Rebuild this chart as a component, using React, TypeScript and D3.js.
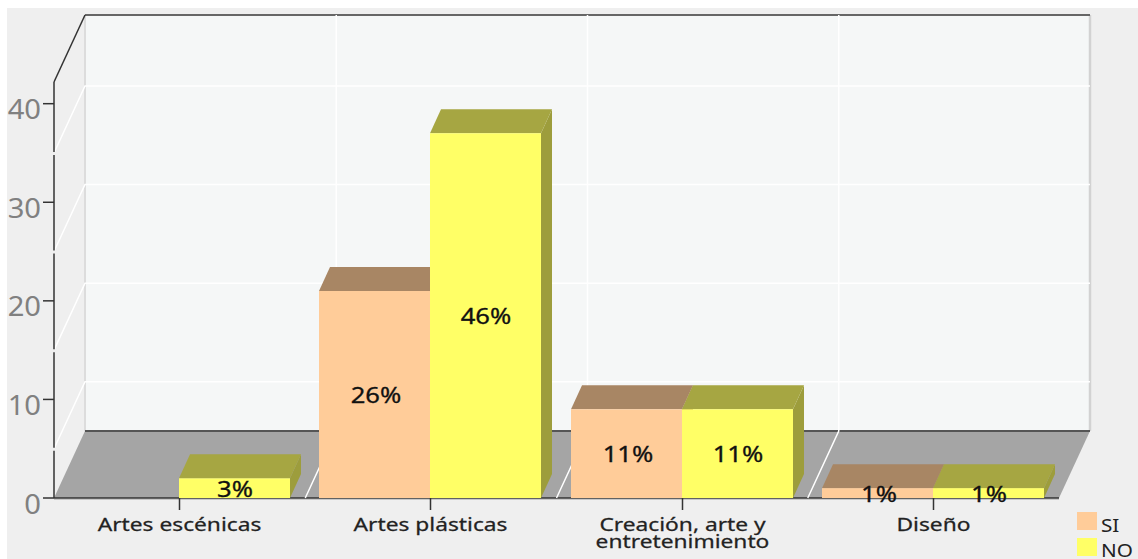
import * as d3 from "d3";

const categories = ["Artes escénicas", "Artes plásticas", "Creación, arte y|entretenimiento", "Diseño"];
const seriesSI = [0, 21, 9, 1];
const seriesNO = [2, 37, 9, 1];
const labelsSI = ["", "26%", "11%", "1%"];
const labelsNO = ["3%", "46%", "11%", "1%"];
const yTicks = [0, 10, 20, 30, 40];
const gridValues = [5, 15, 25, 35];

const FONT = "'Noto Sans', sans-serif";
const DEPTH_X = 31;
const DEPTH_Y = 67;
const BAR_DX = 11;
const BAR_DY = 24;

const y = d3.scaleLinear().domain([0, 42.2]).range([498, 82]);
const x = d3.scaleBand<string>().domain(categories).range([54, 1059]);
const BASE = y(0);
const TOP = y(42.2);

const poly = (pts: [number, number][]) => pts.map((p) => p.join(",")).join(" ");

// Text widened horizontally about its anchor point.
function Wide({ x: tx, y: ty, sx, children, ...rest }: any) {
  return (
    <text transform={`translate(${tx},${ty}) scale(${sx},1)`} {...rest}>
      {children}
    </text>
  );
}

function Bar({ left, width, value, fill, top, side }: {
  left: number; width: number; value: number; fill: string; top: string; side: string;
}) {
  if (value <= 0) return null;
  const t = y(value);
  const r = left + width;
  return (
    <g>
      <polygon points={poly([[r, t], [r + BAR_DX, t - BAR_DY], [r + BAR_DX, BASE - BAR_DY], [r, BASE]])} fill={side} />
      <polygon points={poly([[left, t], [left + BAR_DX, t - BAR_DY], [r + BAR_DX, t - BAR_DY], [r, t]])} fill={top} />
      <rect x={left} y={t} width={width} height={BASE - t} fill={fill} />
    </g>
  );
}

export default function App() {
  const bw = x.bandwidth();
  const half = 111;
  // Whole-pixel seam between the two bars of a category.
  const seam = (c: string) => Math.round(x(c)! + bw / 2 - 0.5);
  return (
    <svg width={1138} height={559} style={{ position: "absolute", left: 0, top: 0, background: "#fff" }} fontFamily={FONT}>
      <rect x={7} y={8} width={1131} height={551} fill="#efefef" />
      {/* back wall */}
      <rect x={54 + DEPTH_X} y={TOP - DEPTH_Y} width={1005} height={BASE - TOP} fill="#f5f7f7" />
      <line x1={85} x2={85} y1={15} y2={431} stroke="#dcdcdc" strokeWidth={2} />
      <line x1={1090} x2={1090} y1={15} y2={431} stroke="#d2d2d2" strokeWidth={2.5} />
      {/* floor */}
      <polygon points={poly([[54, BASE], [54 + DEPTH_X, BASE - DEPTH_Y], [1059 + DEPTH_X, BASE - DEPTH_Y], [1059, BASE]])} fill="#a5a5a5" />
      <line x1={85} x2={1090} y1={431} y2={431} stroke="#555" strokeWidth={2} />
      <line x1={85} x2={1090} y1={15} y2={15} stroke="#666" strokeWidth={2} />
      <line x1={54} x2={1059} y1={498} y2={498} stroke="#333" strokeWidth={1.5} />
      <line x1={54} x2={1059} y1={499.5} y2={499.5} stroke="#c8c8c8" strokeWidth={1} />
      {/* gridlines along the wall and side */}
      {gridValues.map((v) => (
        <polyline key={v} points={poly([[54, y(v)], [85, y(v) - DEPTH_Y], [1090, y(v) - DEPTH_Y]])} stroke="#fff" strokeWidth={1.5} fill="none" />
      ))}
      {/* category separators */}
      {categories.slice(1).map((c) => {
        const fx = x(c)!;
        return (
          <polyline key={c} points={poly([[fx, BASE], [fx + DEPTH_X, BASE - DEPTH_Y], [fx + DEPTH_X, 15]])} stroke="#fff" strokeWidth={1.5} fill="none" />
        );
      })}
      {/* axes */}
      <line x1={54} x2={54} y1={82} y2={498} stroke="#333" strokeWidth={1.5} />
      <line x1={54} x2={85} y1={82} y2={15} stroke="#333" strokeWidth={1.5} />
      {gridValues.map((v) => (
        <line key={v} x1={54} x2={54} y1={y(v) - 1} y2={y(v) + 2} stroke="#efefef" strokeWidth={2} />
      ))}
      {yTicks.map((t) => (
        <g key={t}>
          <line x1={43} x2={54} y1={y(t)} y2={y(t)} stroke="#333" strokeWidth={1.5} />
          <Wide x={41} y={y(t) + 15.5} sx={1.08} textAnchor="end" fontSize={27} fill="#808080">{t}</Wide>
        </g>
      ))}
      {categories.map((c) => {
        const cx = seam(c) + 0.5;
        return <line key={c} x1={cx} x2={cx} y1={498} y2={510} stroke="#333" strokeWidth={1.5} />;
      })}
      {/* bars: the SI series first so NO sits in front of its side face */}
      {categories.map((c, i) => (
        <Bar key={c} left={seam(c) - half} width={half} value={seriesSI[i]} fill="#ffcc99" top="#a88664" side="#a88664" />
      ))}
      {categories.map((c, i) => (
        <Bar key={c} left={seam(c)} width={half} value={seriesNO[i]} fill="#ffff66" top="#a6a642" side="#9d9d3c" />
      ))}
      {/* value labels */}
      {categories.map((c, i) => {
        const cx = seam(c) + 0.5;
        const mid = (v: number) => (y(v) + BASE) / 2 + 8.5;
        const style = { fontSize: 21, fill: "#111", stroke: "#111", strokeWidth: 0.3, textAnchor: "middle" };
        return (
          <g key={c}>
            {labelsSI[i] && <Wide x={cx - half / 2 + 1} y={mid(seriesSI[i])} sx={1.22} {...style}>{labelsSI[i]}</Wide>}
            {labelsNO[i] && <Wide x={cx + half / 2} y={mid(seriesNO[i])} sx={1.22} {...style}>{labelsNO[i]}</Wide>}
          </g>
        );
      })}
      {/* category labels */}
      {categories.map((c) => {
        const cx = seam(c) + 0.5;
        return c.split("|").map((part, k) => (
          <Wide key={part} x={cx} y={530.5 + k * 17} sx={1.23} fontSize={18.5} fill="#222" stroke="#222" strokeWidth={0.25} textAnchor="middle">{part}</Wide>
        ));
      })}
      {/* legend */}
      <rect x={1077} y={512} width={20} height={18} fill="#ffcc99" />
      <rect x={1077} y={538} width={20} height={18} fill="#ffff66" />
      <Wide x={1101} y={532} sx={1.15} fontSize={18} fill="#222">SI</Wide>
      <Wide x={1101} y={556.5} sx={1.15} fontSize={18} fill="#222">NO</Wide>
    </svg>
  );
}
